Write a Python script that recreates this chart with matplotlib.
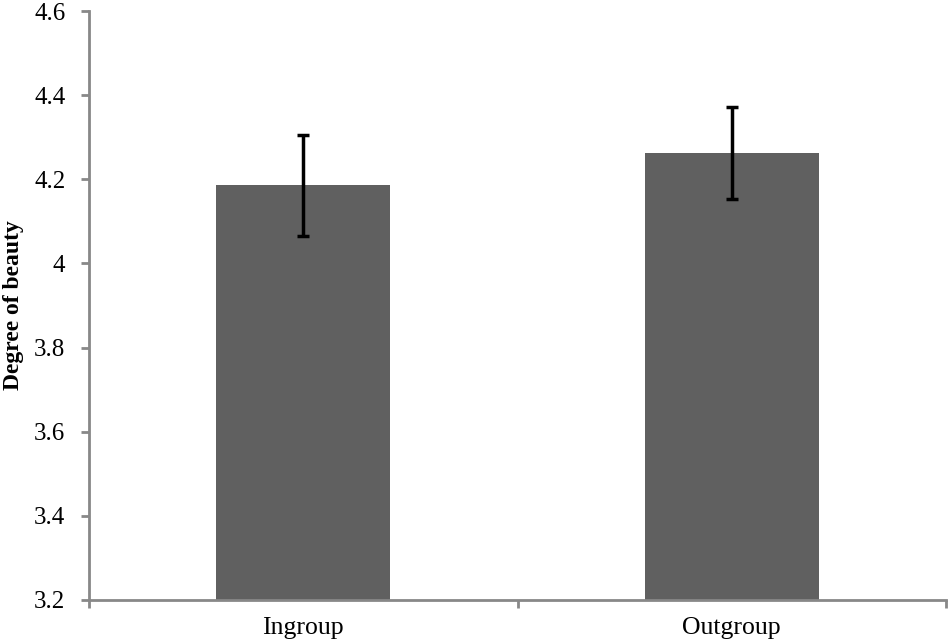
import matplotlib
matplotlib.use("Agg")
import matplotlib.pyplot as plt
import numpy as np

categories = ["Ingroup", "Outgroup"]
means = [4.186, 4.263]
errors = [0.12, 0.11]
yticks = [3.2, 3.4, 3.6, 3.8, 4.0, 4.2, 4.4, 4.6]
ytick_labels = ["3.2", "3.4", "3.6", "3.8", "4", "4.2", "4.4", "4.6"]

plt.rcParams['font.family'] = ['Liberation Serif', 'DejaVu Serif']

fig = plt.figure(figsize=(9.5, 6.41), dpi=100)
ax = fig.add_axes([89/950, 41/641, (946-89)/950, (600-11)/641])

x = np.arange(len(categories))
ax.bar(x, [m - 3.2 for m in means], bottom=3.2, width=0.405, color="#606060", zorder=2)
ax.errorbar(x, means, yerr=errors, fmt="none", ecolor="black", elinewidth=2.5,
            capsize=4, capthick=2.5, zorder=3)

ax.set_xlim(-0.5, 1.5)
ax.set_ylim(3.2, 4.6)
ax.set_yticks(yticks)
ax.set_yticklabels(ytick_labels)
ax.set_xticks(x)
ax.set_xticklabels(categories)
ax.set_xticks([-0.5, 0.5, 1.5], minor=True)
ax.tick_params(axis="x", which="major", length=0, pad=12, labelsize=18.5)
ax.tick_params(axis="x", which="minor", length=6, width=2, color="#888888")
ax.tick_params(axis="y", length=6, width=2, color="#888888", labelsize=18, pad=11)

for s in ["top", "right"]:
    ax.spines[s].set_visible(False)
for s in ["left", "bottom"]:
    ax.spines[s].set_color("#888888")
    ax.spines[s].set_linewidth(2)

ax.set_ylabel("Degree of beauty", fontsize=17, fontweight="bold", labelpad=7)

fig.savefig("out.png", dpi=100)
